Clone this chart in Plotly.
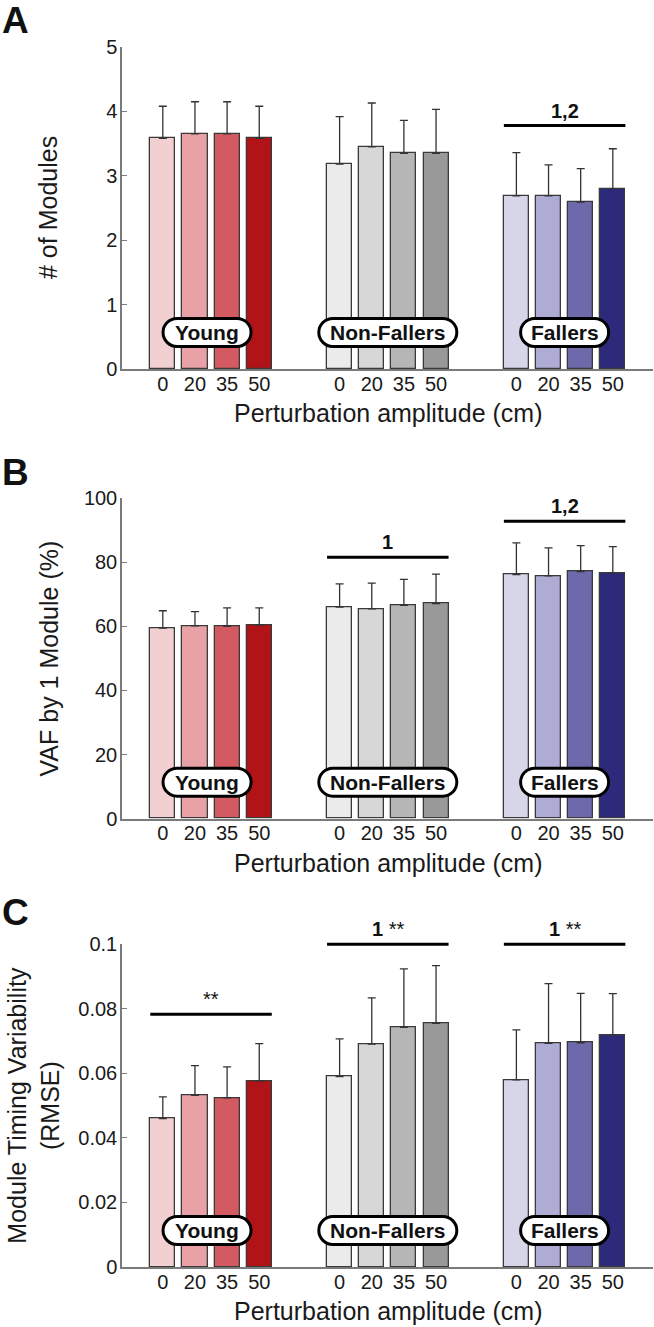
import plotly.graph_objects as go

# ---------------- data ----------------
amplitudes = ["0", "20", "35", "50"]
groups = ["Young", "Non-Fallers", "Fallers"]

modules_mean = [[3.58, 3.65, 3.65, 3.58],
                [3.18, 3.45, 3.35, 3.35],
                [2.69, 2.69, 2.59, 2.80]]
modules_sd = [[0.50, 0.50, 0.50, 0.50],
              [0.74, 0.68, 0.51, 0.68],
              [0.67, 0.48, 0.52, 0.62]]

vaf_mean = [[59.5, 60.2, 60.0, 60.4],
            [66.0, 65.5, 66.6, 67.1],
            [76.2, 75.8, 77.1, 76.7]]
vaf_sd = [[5.4, 4.4, 5.8, 5.4],
          [7.3, 8.0, 8.1, 9.2],
          [9.9, 8.7, 8.1, 8.2]]

timing_mean = [[0.0460, 0.0532, 0.0524, 0.0577],
               [0.0590, 0.0691, 0.0743, 0.0755],
               [0.0580, 0.0693, 0.0695, 0.0719]]
timing_sd = [[0.0067, 0.0092, 0.0096, 0.0115],
             [0.0117, 0.0143, 0.0181, 0.0179],
             [0.0155, 0.0185, 0.0153, 0.0128]]

# significance markers: (group index, height of line, label)
sig_modules = [(2, 3.78, "<b>1,2</b>")]
sig_vaf = [(1, 81.6, "<b>1</b>"), (2, 92.8, "<b>1,2</b>")]
sig_timing = [(0, 0.0783, "**"), (1, 0.100, "<b>1</b> **"), (2, 0.100, "<b>1</b> **")]

colors = [["#f2cfd1", "#e8a1a6", "#d45a62", "#b01318"],
          ["#ebebeb", "#d7d7d7", "#b6b6b6", "#999999"],
          ["#d6d6e8", "#aeacd4", "#6e69ab", "#2e2a7b"]]

# ---------------- layout config ----------------
FONT = "Liberation Sans, Arial, Helvetica, sans-serif"
TXT = "#1a1a1a"
AX = "#7a7a7a"
group_offsets = [0, 5.5, 11]
bar_w = 0.78
pill_w = [88, 138, 88]
pill_dx = [-4, 0, 0]
pill_h = 28
pill_y = 36.5

panels = [
    dict(mean=modules_mean, sd=modules_sd, sig=sig_modules, ymax=5,
         tickvals=[0, 1, 2, 3, 4, 5], ticktext=["0", "1", "2", "3", "4", "5"],
         dom=[0.7361, 1.0], ytitle="# of Modules", ytx=-74, letter="A", ly=1.0221),
    dict(mean=vaf_mean, sd=vaf_sd, sig=sig_vaf, ymax=100,
         tickvals=[0, 20, 40, 60, 80, 100], ticktext=["0", "20", "40", "60", "80", "100"],
         dom=[0.3675, 0.6301], ytitle="VAF by 1 Module (%)", ytx=-73, letter="B", ly=0.6516),
    dict(mean=timing_mean, sd=timing_sd, sig=sig_timing, ymax=0.1,
         tickvals=[0, 0.02, 0.04, 0.06, 0.08, 0.1],
         ticktext=["0", "0.02", "0.04", "0.06", "0.08", "0.1"],
         dom=[0.0, 0.2645], ytitle="Module Timing Variability<br>(RMSE)", ytx=-88,
         letter="C", ly=0.2902),
]

fig = go.Figure()
layout = dict(width=654, height=1327, margin=dict(l=122, r=1, t=47, b=60),
              paper_bgcolor="white", plot_bgcolor="white", showlegend=False,
              font=dict(family=FONT, color=TXT), bargap=0)
shapes = []
annotations = []

K = 0.5523
R = pill_h / 2


def pill_path(w, yc, dx):
    hw = w / 2
    y0, y1 = yc - R, yc + R
    a, b = -hw + R + dx, hw - R + dx
    l, rr = -hw + dx, hw + dx
    return (f"M {a},{y0} L {b},{y0} "
            f"C {b + K * R},{y0} {rr},{yc - K * R} {rr},{yc} "
            f"C {rr},{yc + K * R} {b + K * R},{y1} {b},{y1} "
            f"L {a},{y1} "
            f"C {a - K * R},{y1} {l},{yc + K * R} {l},{yc} "
            f"C {l},{yc - K * R} {a - K * R},{y0} {a},{y0} Z")


all_tickvals = []
all_ticktext = []
for g in range(3):
    for i in range(4):
        all_tickvals.append(group_offsets[g] + i)
        all_ticktext.append(amplitudes[i])

for p_i, P in enumerate(panels):
    sfx = "" if p_i == 0 else str(p_i + 1)
    xa, ya = "x" + sfx, "y" + sfx
    for g in range(3):
        xs = [group_offsets[g] + i for i in range(4)]
        fig.add_trace(go.Bar(
            x=xs, y=P["mean"][g], width=bar_w, xaxis=xa, yaxis=ya,
            marker=dict(color=colors[g], line=dict(color="#3a3a3a", width=1.3)),
            error_y=dict(type="data", symmetric=False, array=P["sd"][g],
                         arrayminus=[0] * 4, color="#333333", thickness=1.3, width=4),
            name=groups[g], hoverinfo="x+y"))
        cx = sum(xs) / 4
        # group label pill
        shapes.append(dict(type="path", xref=xa, yref=ya, xsizemode="pixel",
                           ysizemode="pixel", xanchor=cx, yanchor=0,
                           path=pill_path(pill_w[g], pill_y, pill_dx[g]),
                           fillcolor="white", line=dict(color="black", width=3),
                           layer="above"))
        annotations.append(dict(xref=xa, yref=ya, x=cx, y=0, xshift=pill_dx[g],
                                yshift=pill_y, text="<b>" + groups[g] + "</b>",
                                showarrow=False, xanchor="center", yanchor="middle",
                                font=dict(size=21, color="#111111", family=FONT)))
    # significance lines
    d0, d1 = P["dom"]
    for (g, val, lab) in P["sig"]:
        xs = [group_offsets[g] + i for i in range(4)]
        py = d0 + val / P["ymax"] * (d1 - d0)
        shapes.append(dict(type="line", xref=xa, yref="paper",
                           x0=xs[0] - bar_w / 2, x1=xs[-1] + bar_w / 2, y0=py, y1=py,
                           line=dict(color="black", width=3)))
        annotations.append(dict(xref=xa, yref="paper", x=sum(xs) / 4, y=py, yshift=15,
                                text=lab, showarrow=False, xanchor="center",
                                yanchor="middle",
                                font=dict(size=20, color="#111111", family=FONT)))
    layout["xaxis" + sfx] = dict(domain=[0, 1], anchor=ya, range=[-1.27, 15.25],
                                 showline=True, linecolor=AX, linewidth=1.5,
                                 tickmode="array", tickvals=all_tickvals,
                                 ticktext=all_ticktext, ticks="", showgrid=False,
                                 zeroline=False, ticklabelstandoff=-4,
                                 tickfont=dict(size=20, color=TXT, family=FONT))
    layout["yaxis" + sfx] = dict(domain=P["dom"], anchor=xa, range=[0, P["ymax"]],
                                 showline=True, linecolor=AX, linewidth=1.5,
                                 tickmode="array", tickvals=P["tickvals"],
                                 ticktext=P["ticktext"], ticks="inside", ticklen=5,
                                 tickcolor=AX, tickwidth=1.2, showgrid=False,
                                 zeroline=False, ticklabelstandoff=-1,
                                 tickfont=dict(size=20, color=TXT, family=FONT))
    # axis titles
    annotations.append(dict(xref=xa + " domain", yref=ya + " domain", x=0, y=0.5,
                            xshift=P["ytx"], text=P["ytitle"], textangle=-90,
                            showarrow=False, xanchor="center", yanchor="middle",
                            font=dict(size=25, color=TXT, family=FONT)))
    annotations.append(dict(xref=xa + " domain", yref=ya + " domain", x=0.5, y=0,
                            yshift=-44, text="Perturbation amplitude (cm)",
                            showarrow=False, xanchor="center", yanchor="middle",
                            font=dict(size=25, color=TXT, family=FONT)))
    # panel letter
    annotations.append(dict(xref="paper", yref="paper", x=0, y=P["ly"], xshift=-122,
                            text="<b>" + P["letter"] + "</b>", showarrow=False,
                            xanchor="left", yanchor="middle",
                            font=dict(size=37, color="#111111", family=FONT)))

layout["shapes"] = shapes
layout["annotations"] = annotations
fig.update_layout(**layout)
fig.write_html("out.html", config={"displayModeBar": False},
               post_script="document.body.style.margin='0';document.body.style.padding='0';")
